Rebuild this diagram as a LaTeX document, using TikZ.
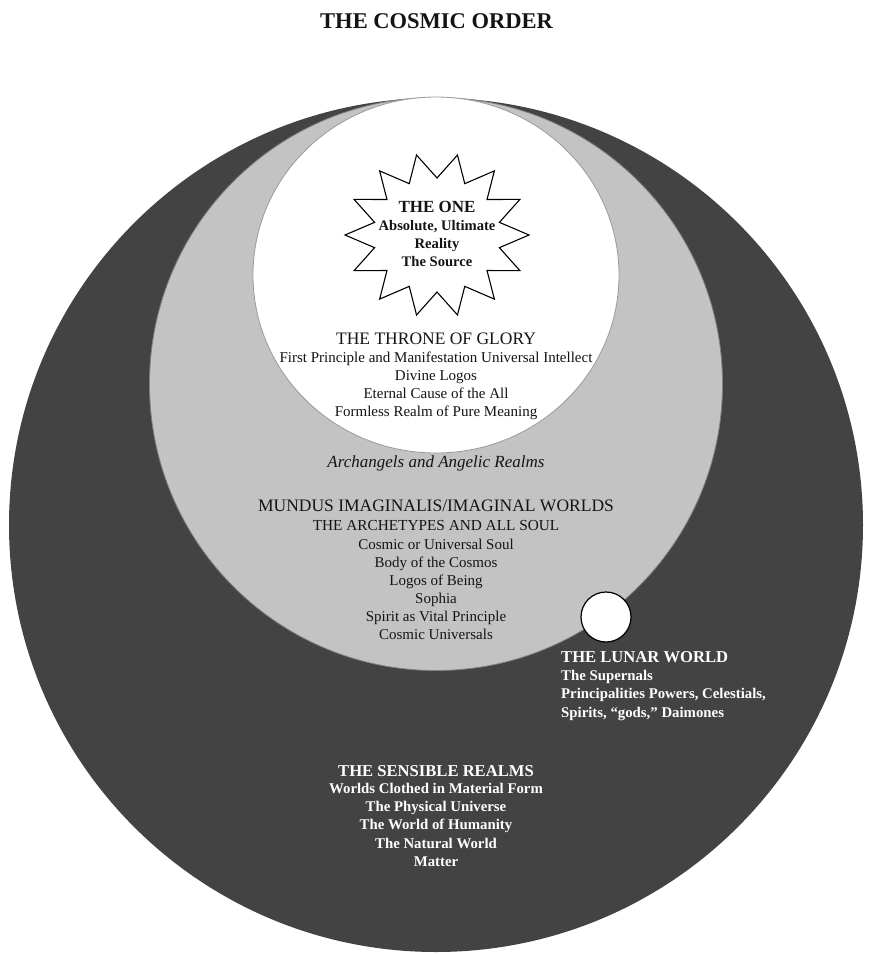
\documentclass[tikz,border=0pt]{standalone}
\usepackage{fontspec}
\setmainfont{Liberation Serif}
\definecolor{darkring}{HTML}{434343}
\definecolor{greyring}{HTML}{C3C3C3}
\definecolor{greyedge}{HTML}{808080}
\definecolor{whiteedge}{HTML}{9A9A9A}
\definecolor{ink}{HTML}{141414}
\begin{document}
\begin{tikzpicture}[x=1pt,y=-1pt,
  lbl/.style={inner sep=0pt, anchor=base, text=ink},
  body/.style={lbl, font=\fontsize{15}{18}\selectfont},
  head/.style={lbl, font=\fontsize{17.5}{20}\selectfont},
  subhead/.style={lbl, font=\fontsize{15.3}{18}\selectfont},
  onehead/.style={lbl, font=\bfseries\fontsize{17}{20}\selectfont},
  onebody/.style={lbl, font=\bfseries\fontsize{14.6}{18}\selectfont},
  whead/.style={lbl, text=white, font=\bfseries\fontsize{16.6}{20}\selectfont},
  wbody/.style={lbl, text=white, font=\bfseries\fontsize{14.8}{18}\selectfont},
  ital/.style={lbl, font=\itshape\fontsize{17}{20}\selectfont},
  titlefont/.style={lbl, font=\bfseries\fontsize{22.5}{26}\selectfont},
  starline/.style={draw=black, fill=white, line width=1.1pt, line join=miter}
]
\useasboundingbox (0,0) rectangle (880,954);
\fill[white] (0,0) rectangle (880,954);

% spheres
\fill[darkring] (436,525) circle[radius=427pt];
\filldraw[fill=greyring, draw=greyedge, line width=0.8pt] (436,384) circle[radius=286.5pt];
\filldraw[fill=white, draw=whiteedge, line width=0.8pt] (436,275) ellipse[x radius=183pt, y radius=178pt];
\filldraw[fill=white, draw=black, line width=1.2pt] (606,617) circle[radius=25pt];

% the star
\draw[starline, shift={(437,235)}] plot[samples at={0,...,27}]
  ({(92-28*mod(\x,2))*cos(\x*360/28)}, {(82-25*mod(\x,2))*sin(\x*360/28)}) -- cycle;

% title
\node[titlefont] (title) at (436.5,28) {THE COSMIC ORDER};

% the one
\node[onehead] (one0) at (437,212) {THE ONE};
\node[onebody] (one1) at (437,230) {Absolute, Ultimate};
\node[onebody] (one2) at (437,248) {Reality};
\node[onebody] (one3) at (437,266) {The Source};

% throne of glory
\node[head] (thr0) at (436,344) {THE THRONE OF GLORY};
\node[body] (thr1) at (436,362) {First Principle and Manifestation Universal Intellect};
\node[body] (thr2) at (436,380) {Divine Logos};
\node[body] (thr3) at (436,398) {Eternal Cause of the All};
\node[body] (thr4) at (436,416) {Formless Realm of Pure Meaning};

% angelic
\node[ital] (arch) at (436,467) {Archangels and Angelic Realms};

% mundus imaginalis
\node[head] (mun0) at (436,511) {MUNDUS IMAGINALIS/IMAGINAL WORLDS};
\node[subhead] (mun1) at (436,530) {THE ARCHETYPES AND ALL SOUL};
\node[body] (mun2) at (436,549) {Cosmic or Universal Soul};
\node[body] (mun3) at (436,567) {Body of the Cosmos};
\node[body] (mun4) at (436,585) {Logos of Being};
\node[body] (mun5) at (436,603) {Sophia};
\node[body] (mun6) at (436,621) {Spirit as Vital Principle};
\node[body] (mun7) at (436,639) {Cosmic Universals};

% lunar world
\node[whead, anchor=base west] (lun0) at (561,662) {THE LUNAR WORLD};
\node[wbody, anchor=base west] (lun1) at (561,680) {The Supernals};
\node[wbody, anchor=base west] (lun2) at (561,698) {Principalities Powers, Celestials,};
\node[wbody, anchor=base west] (lun3) at (561,717) {Spirits, “gods,” Daimones};

% sensible realms
\node[whead] (sen0) at (436,776) {THE SENSIBLE REALMS};
\node[wbody] (sen1) at (436,793) {Worlds Clothed in Material Form};
\node[wbody] (sen2) at (436,811) {The Physical Universe};
\node[wbody] (sen3) at (436,829) {The World of Humanity};
\node[wbody] (sen4) at (436,848) {The Natural World};
\node[wbody] (sen5) at (436,866) {Matter};
\end{tikzpicture}
\end{document}
